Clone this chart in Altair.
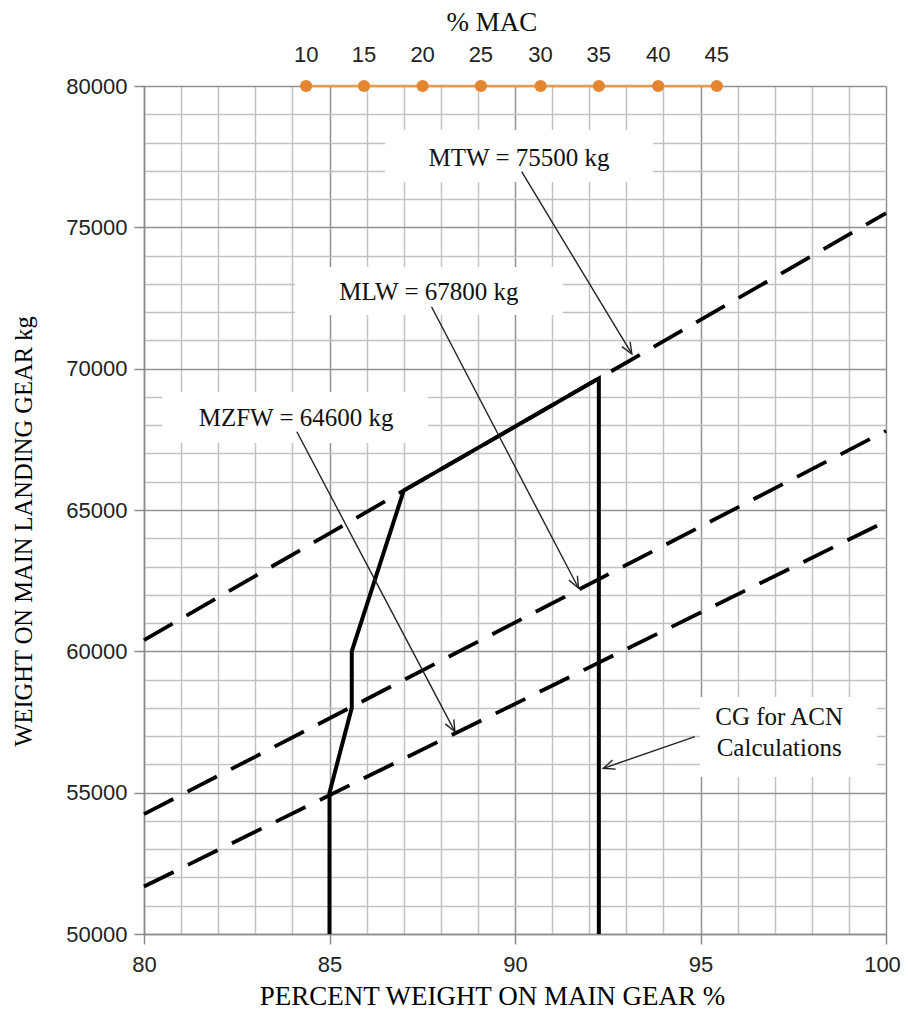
import math
import altair as alt
import pandas as pd

# ---------------- data ----------------
x_ticks = list(range(80, 101))                 # percent weight on main gear
y_ticks = list(range(50000, 80001, 1000))      # weight on main landing gear (kg)

limit_names = ["MTW", "MLW", "MZFW"]
limit_x = [80, 100]
mtw_y = [60400, 75500]
mlw_y = [54240, 67800]
mzfw_y = [51680, 64600]

cg_x = [85.0, 85.0, 85.6, 85.6, 87.0, 92.26, 92.26]
cg_y = [50000, 55000, 58000, 60000, 65685, 69656, 50000]

mac_labels = ["10", "15", "20", "25", "30", "35", "40", "45"]
mac_x = [84.37, 85.93, 87.51, 89.08, 90.69, 92.26, 93.86, 95.44]
mac_y = 80000
mac_title = "% MAC"
mac_title_x = 89.38

ann_text = ["MTW = 75500 kg", "MLW = 67800 kg", "MZFW = 64600 kg", "CG for ACN", "Calculations"]
ann_x = [90.11, 87.68, 84.10, 97.12, 97.12]
ann_y = [77453, 72712, 68255, 57677, 56580]

box_x1 = [86.50, 84.07, 80.49, 94.99]
box_x2 = [93.72, 91.29, 87.65, 99.76]
box_y1 = [76604, 71899, 67370, 55554]
box_y2 = [78443, 73597, 69175, 58384]

arrow_x1 = [90.18, 87.75, 84.12, 94.85]
arrow_y1 = [76970, 72190, 67770, 56980]
arrow_x2 = [93.15, 91.71, 88.38, 92.38]
arrow_y2 = [70520, 62240, 57157, 55862]

# ---------------- layout ----------------
W, H = 742, 848
XMIN, XMAX, YMIN, YMAX = 80, 100, 50000, 80000

xs = alt.Scale(domain=[XMIN, XMAX], nice=False, zero=False)
ys = alt.Scale(domain=[YMIN, YMAX], nice=False, zero=False)

grid_minor = "#c2c2c2"
grid_major = "#929292"

x_axis = alt.Axis(
    values=x_ticks, format="d",
    labelExpr="datum.value % 5 === 0 ? datum.label : ''",
    labelFont="Liberation Sans", labelFontSize=22, labelColor="#222222",
    labelPadding=10, labelFlush=False, labelOverlap=False,
    labelOffset={"condition": {"test": "datum.value === 100", "value": -4}, "value": 0},
    tickSize=10, tickColor="#8a8a8a", tickWidth=1.5,
    tickOpacity={"condition": {"test": "datum.value % 5 === 0", "value": 1}, "value": 0},
    domainColor="#8a8a8a", domainWidth=1.5,
    grid=True, gridWidth=1.5,
    gridColor={"condition": {"test": "datum.value % 5 === 0", "value": grid_major}, "value": grid_minor},
    title="PERCENT WEIGHT ON MAIN GEAR %", titleFont="Liberation Serif", titleFontSize=27,
    titleFontWeight="normal", titleColor="#000000", titleX=348, titleY=70,
    titleAlign="center", titleBaseline="alphabetic",
)
y_axis = alt.Axis(
    values=y_ticks, format="d",
    labelExpr="datum.value % 5000 === 0 ? datum.label : ''",
    labelFont="Liberation Sans", labelFontSize=22, labelColor="#222222",
    labelPadding=7, labelFlush=False, labelOverlap=False,
    tickSize=10, tickColor="#8a8a8a", tickWidth=1.5,
    tickOpacity={"condition": {"test": "datum.value % 5000 === 0", "value": 1}, "value": 0},
    domainColor="#8a8a8a", domainWidth=1.5,
    grid=True, gridWidth=1.5,
    gridColor={"condition": {"test": "datum.value % 5000 === 0", "value": grid_major}, "value": grid_minor},
    title="WEIGHT ON MAIN LANDING GEAR kg", titleFont="Liberation Serif", titleFontSize=24.5,
    titleFontWeight="normal", titleColor="#000000", titleAngle=270,
    titleX=-120, titleY=445, titleAlign="center", titleBaseline="middle",
)


def X(field):
    return alt.X(field, scale=xs, axis=x_axis)


def Y(field):
    return alt.Y(field, scale=ys, axis=y_axis)


# ---------------- tables ----------------
boxes = pd.DataFrame({"x": box_x1, "x2": box_x2, "y": box_y1, "y2": box_y2})

limits = pd.DataFrame({
    "name": [n for n in limit_names for _ in limit_x],
    "x": limit_x * 3,
    "y": mtw_y + mlw_y + mzfw_y,
})

cg = pd.DataFrame({"x": cg_x, "y": cg_y, "i": list(range(len(cg_x)))})

mac = pd.DataFrame({"x": mac_x, "y": [mac_y] * len(mac_x), "label": mac_labels})
mac_t = pd.DataFrame({"x": [mac_title_x], "y": [mac_y], "label": [mac_title]})

ann = pd.DataFrame({"x": ann_x, "y": ann_y, "label": ann_text})

px_x = W / (XMAX - XMIN)
px_y = H / (YMAX - YMIN)
angles = []
for a, b, c, d in zip(arrow_x1, arrow_y1, arrow_x2, arrow_y2):
    dx = (c - a) * px_x
    dy = -(d - b) * px_y
    angles.append(math.degrees(math.atan2(dy, dx)) % 360)
arrows = pd.DataFrame({"x": arrow_x1, "y": arrow_y1, "x2": arrow_x2, "y2": arrow_y2, "ang": angles})

# ---------------- layers ----------------
box_layer = alt.Chart(boxes).mark_rect(fill="white", strokeWidth=0).encode(
    x=X("x:Q"), x2="x2:Q", y=Y("y:Q"), y2="y2:Q",
)

limit_layer = alt.Chart(limits).mark_line(
    color="black", strokeWidth=3.8, strokeDash=[33, 16], strokeCap="butt"
).encode(x=X("x:Q"), y=Y("y:Q"), detail="name:N")

cg_layer = alt.Chart(cg).mark_line(color="black", strokeWidth=4, strokeJoin="miter").encode(
    x=X("x:Q"), y=Y("y:Q"), order="i:Q",
)

shaft_layer = alt.Chart(arrows).mark_rule(color="#222222", strokeWidth=1.4).encode(
    x=X("x:Q"), y=Y("y:Q"), x2="x2:Q", y2="y2:Q",
)

head_layer = alt.Chart(arrows).mark_point(
    shape="M-1,-0.42L0,0L-1,0.42", filled=False, color="#222222",
    strokeWidth=1.4, size=520, opacity=1,
).encode(
    x=X("x2:Q"), y=Y("y2:Q"),
    angle=alt.Angle("ang:Q", scale=None),
)

mac_line = alt.Chart(mac).mark_line(color="#E99A52", strokeWidth=2.5).encode(
    x=X("x:Q"), y=Y("y:Q"),
)
mac_pts = alt.Chart(mac).mark_circle(size=150, color="#E3862F", opacity=1).encode(
    x=X("x:Q"), y=Y("y:Q"),
)
mac_text = alt.Chart(mac).mark_text(
    dy=-31, font="Liberation Sans", fontSize=22, color="#222222", baseline="middle"
).encode(x=X("x:Q"), y=Y("y:Q"), text="label:N")

mac_title_layer = alt.Chart(mac_t).mark_text(
    dy=-55, font="Liberation Serif", fontSize=27, color="#111111", baseline="alphabetic"
).encode(x=X("x:Q"), y=Y("y:Q"), text="label:N")

ann_layer = alt.Chart(ann).mark_text(
    font="Liberation Serif", fontSize=25, color="#111111", baseline="middle", align="center"
).encode(x=X("x:Q"), y=Y("y:Q"), text="label:N")

chart = alt.layer(
    box_layer, limit_layer, cg_layer, shaft_layer, head_layer,
    mac_line, mac_pts, mac_text, mac_title_layer, ann_layer,
).properties(
    width=W, height=H,
    padding={"left": 136, "top": 78, "right": 15, "bottom": 75},
    autosize=alt.AutoSizeParams(type="none"),
).configure_view(stroke=None).configure(background="white")

chart.save("out.html", embed_options={"renderer": "svg", "actions": False})
